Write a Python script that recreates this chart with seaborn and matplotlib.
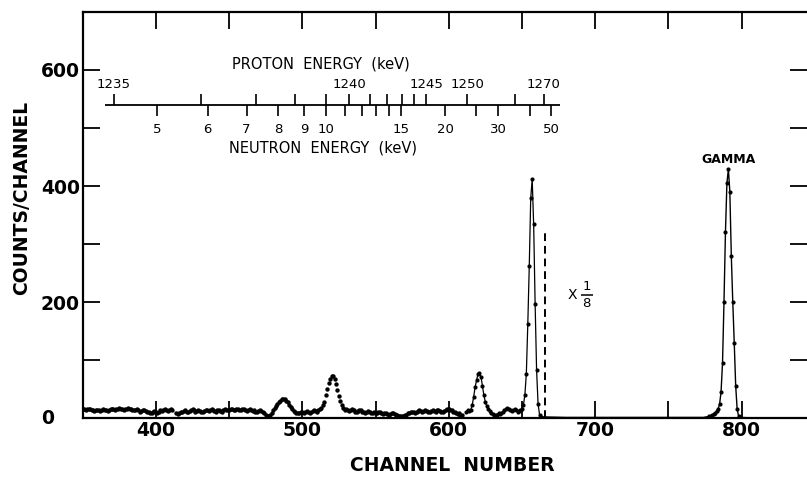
import numpy as np
import pandas as pd
import matplotlib
matplotlib.use("Agg")
import matplotlib.pyplot as plt
import seaborn as sns
from matplotlib.transforms import blended_transform_factory

nan = np.nan

# ---------------- data ----------------
# dense low-energy part of the spectrum, one value per channel from 350
low_start_channel = 350
low_counts = [
    16, 15, 14, 15, 16, 15, 14, 13, 12, 13,
    14, 13, 12, 14, 15, 14, 13, 12, 13, 15,
    16, 15, 14, 15, 16, 17, 16, 15, 14, 15,
    16, 17, 16, 15, 14, 13, 14, 15, 13, 11,
    12, 14, 13, 12, 11, 10, 8, 9, 11, 12,
    10, 9, 11, 13, 12, 14, 15, 13, 12, 14,
    15, 13, nan, nan, 8, 7, 9, 11, 10, 12,
    13, 11, 10, 12, 14, 15, 13, 11, 12, 13,
    12, 10, 11, 12, 14, 13, 12, 13, 15, 14,
    12, 11, 13, 14, 12, 11, 13, 15, 14, 13,
    14, 16, 15, 13, 14, 16, 15, 13, 14, 15,
    16, 14, 12, 13, 15, 14, 12, 13, 11, 10,
    12, 13, 12, 10, 8, 6, 4, 3, 5, 9,
    14, 18, 21, 24, 27, 30, 32, 33, 32, 30,
    27, 23, 19, 15, 12, 10, 9, 8, 9, 10,
    11, 9, 10, 12, 11, 9, 10, 12, 13, 12,
    11, 14, 16, 18, 22, 28, 40, 50, 60, 67,
    72, 72, 67, 58, 48, 38, 30, 22, 17, 14,
    15, 13, 12, 14, 16, 13, 11, 10, 12, 14,
    13, 11, 10, 9, 11, 12, 10, 8, 9, 10,
    9, 8, 10, 11, 9, 7, 8, 9, 7, 6,
    7, 8, 9, 7, 6, 5, 4, 3, 3, 4,
    5, 6, 8, 9, 10, 11, 10, 9, 11, 12,
    13, 12, 11, 12, 13, 12, 11, 10, 12, 13,
    12, 11, 13, 14, 12, 11, 10, 12, 13, 15,
    16, 14, 13, 11, 10, 8, 7, 9, 6, 5,
    nan, nan,
]

# part drawn with connecting line (from channel 612 up to the scale break)
mid_start_channel = 612
mid_counts = [
    11, 13, 12, 14, 22, 36, 53, 65, 76, 78,
    71, 56, 39, 28, 20, 15, 12, 9, 7, 6,
    5, 6, 8, 7, 9, 11, 13, 15, 17, 16,
    13, 12, 14, 15, 13, 11, 12, 14, 16, 22,
    40, 76, 162, 262, 379, 412, 334, 197, 83, 25,
    6, 2,
]

# part scaled by 1/8 (after the dashed line), including the gamma peak
scaled_channels = [663, 680, 700, 720, 740, 760, 770, 772, 774, 776, 778, 779,
                   780, 781, 782, 783, 784, 785, 786, 787, 788, 789, 790, 791,
                   792, 793, 794, 795, 796, 797, 798, 799, 810, 830, 845]
scaled_counts = [2, 1, 1, 1, 1, 1, 1, 1, 1, 2, 3, 4,
                 5, 7, 9, 12, 16, 24, 45, 95, 200, 320, 405, 429,
                 390, 280, 200, 130, 55, 15, 3, 1, 0, 0, 0]
gamma_first_marked_channel = 778

scale_break_channel = 666
scale_break_top = 320

# axis ticks
x_ticks = [400, 450, 500, 550, 600, 650, 700, 750, 800]
x_tick_labels = ["400", "", "500", "", "600", "", "700", "", "800"]
y_ticks = [0, 100, 200, 300, 400, 500, 600]
y_tick_labels = ["0", "", "200", "", "400", "", "600"]

# inset energy scale
gamma_flash_channel = 794.5   # time-of-flight zero (channel)
tof_constant = 880.0          # channel * sqrt(keV)
neutron_tick_kev = [5, 6, 7, 8, 9, 10, 11, 12, 13, 14, 15, 20, 25, 30, 40, 50]
neutron_labeled_kev = [5, 6, 7, 8, 9, 10, 15, 20, 30, 50]
proton_tick_kev = [1235, 1236, 1237, 1238, 1239, 1240, 1241, 1242, 1243, 1244,
                   1245, 1250, 1260, 1270]
proton_tick_neutron_kev = [4.32, 5.85, 7.27, 8.63, 9.98, 11.25, 12.56, 13.81,
                           15.08, 16.26, 17.56, 23.4, 34.8, 46.2]
proton_labeled_kev = [1235, 1240, 1245, 1250, 1270]

# ---------------- frames ----------------
low_df = pd.DataFrame({
    "channel": np.arange(low_start_channel, low_start_channel + len(low_counts)),
    "counts": low_counts,
}).dropna()
mid_df = pd.DataFrame({
    "channel": np.arange(mid_start_channel, mid_start_channel + len(mid_counts)),
    "counts": mid_counts,
})
scaled_df = pd.DataFrame({"channel": scaled_channels, "counts": scaled_counts})
gamma_df = scaled_df[(scaled_df.channel >= gamma_first_marked_channel) &
                     (scaled_df.channel <= 799)]

def channel_of(en_kev):
    return gamma_flash_channel - tof_constant / np.sqrt(np.asarray(en_kev, float))

# ---------------- plot ----------------
sns.set_style("ticks")
plt.rcParams["font.family"] = ["DejaVu Sans"]
plt.rcParams["text.color"] = "black"
plt.rcParams["axes.labelcolor"] = "black"
plt.rcParams["xtick.color"] = "black"
plt.rcParams["ytick.color"] = "black"

fig = plt.figure(figsize=(8.07, 4.78), dpi=100)
ax = fig.add_axes([0.1025, 0.1255, 0.8975, 0.8494])

sns.scatterplot(data=low_df, x="channel", y="counts", ax=ax, color="black",
                s=10, linewidth=0, marker="o", legend=False)
sns.lineplot(data=mid_df, x="channel", y="counts", ax=ax, color="black",
             lw=0.9, marker="o", markersize=3.0, markeredgewidth=0,
             estimator=None, sort=False, legend=False)
sns.lineplot(data=scaled_df, x="channel", y="counts", ax=ax, color="black",
             lw=1.0, estimator=None, sort=False, legend=False)
sns.scatterplot(data=gamma_df, x="channel", y="counts", ax=ax, color="black",
                s=9, linewidth=0, marker="o", legend=False)

ax.vlines(scale_break_channel, 0, scale_break_top, colors="black",
          linestyles=(0, (4, 2.5)), lw=1.4)

ax.set_xlim(350, 844.7)
ax.set_ylim(0, 700)

ax.set_xticks(x_ticks)
ax.set_xticklabels(x_tick_labels, fontsize=13.5, fontweight="bold")
ax.set_yticks(y_ticks)
ax.set_yticklabels([""] + y_tick_labels[1:], fontsize=13.5, fontweight="bold")
ax.text(-0.048, 0, y_tick_labels[0], fontsize=13.5, fontweight="bold",
        ha="center", va="center",
        transform=blended_transform_factory(ax.transAxes, ax.transData))

ax.tick_params(direction="in", length=12.5, width=1.3, top=True, right=True,
               pad=2, colors="black")
for side in ["left", "bottom", "top"]:
    ax.spines[side].set_linewidth(1.6)
    ax.spines[side].set_color("black")
ax.spines["right"].set_visible(False)

ax.set_xlabel("CHANNEL  NUMBER", fontsize=13.5, fontweight="bold")
ax.xaxis.label.set_verticalalignment("center")
ax.xaxis.set_label_coords(0.51, -0.118)
ax.set_ylabel("COUNTS/CHANNEL", fontsize=13.5, fontweight="bold")
ax.yaxis.label.set_verticalalignment("center")
ax.yaxis.set_label_coords(-0.0845, 0.543)

# labels inside the plot
ax.text(791, 445, "GAMMA", ha="center", va="center", fontsize=9, fontweight="bold")
ax.text(684.7, 212, "X", ha="center", va="center", fontsize=10)
ax.text(694, 226, "1", ha="center", va="center", fontsize=9.5)
ax.hlines(212, 690, 698.4, colors="black", lw=1.1)
ax.text(694, 198, "8", ha="center", va="center", fontsize=9.5)

# inset energy scale
scale_y = 539
ax.hlines(scale_y, 365.3, 676, colors="black", lw=1.3)
p_ch = channel_of(proton_tick_neutron_kev)
ax.vlines(p_ch, scale_y, scale_y + 19, colors="black", lw=1.2)
n_ch = channel_of(neutron_tick_kev)
ax.vlines(n_ch, scale_y - 19, scale_y, colors="black", lw=1.2)
for kev, ch in zip(proton_tick_kev, p_ch):
    if kev in proton_labeled_kev:
        ax.text(ch, 575, str(kev), ha="center", va="center", fontsize=9.5)
for kev in neutron_labeled_kev:
    ax.text(channel_of(kev), 497, str(kev), ha="center", va="center", fontsize=9.5)
ax.text(513, 611, "PROTON  ENERGY  (keV)", ha="center", va="center", fontsize=10.5)
ax.text(514, 465, "NEUTRON  ENERGY  (keV)", ha="center", va="center", fontsize=10.5)

fig.savefig("out.png", dpi=100)
